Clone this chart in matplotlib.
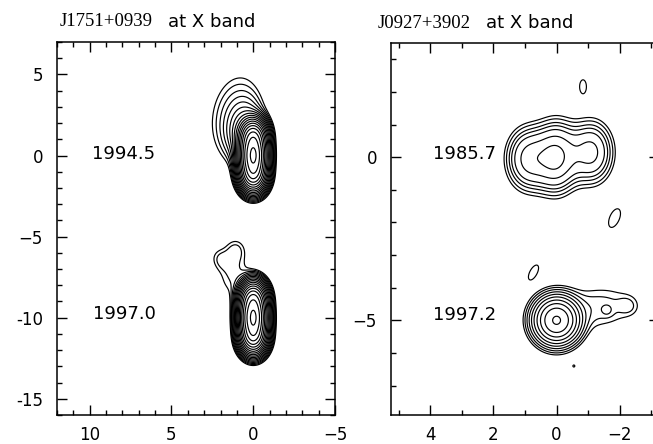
import numpy as np
import matplotlib
matplotlib.use("Agg")
import matplotlib.pyplot as plt
from matplotlib.ticker import MultipleLocator

# model components per epoch: (x, y, flux, sigma_major, sigma_minor, pa_deg)
# offsets in mas, pa measured from +y towards +x
j1751_1994 = [
    (0.0, 0.0, 0.85, 0.75, 0.41, 0),
    (0.0, 1.2, 0.3, 0.55, 0.41, 0),
    (0.0, -1.2, 0.3, 0.55, 0.41, 0),
    (0.6, 1.6, 0.02, 1.0, 0.6, -5),
    (1.1, 2.5, 0.0055, 1.7, 1.0, -10),
]
j1751_1997 = [
    (0.0, -10.0, 0.85, 0.75, 0.41, 0),
    (0.0, -8.8, 0.3, 0.55, 0.41, 0),
    (0.0, -11.2, 0.3, 0.55, 0.41, 0),
    (1.2, -7.3, 0.0035, 1.0, 0.65, -10),
    (1.1, -5.8, 0.003, 0.5, 0.45, 0),
    (2.0, -6.4, 0.003, 0.5, 0.42, 20),
]
j0927_1985 = [
    (0.0, 0.0, 1.0, 0.68, 0.42, 0),
    (0.9, -0.05, 0.8, 0.62, 0.45, 0),
    (-1.1, 0.15, 0.8, 0.62, 0.45, 0),
    (-0.84, 2.17, 0.24, 0.29, 0.15, 0),
    (-1.84, -1.87, 0.24, 0.44, 0.22, -25),
]
j0927_1997 = [
    (0.0, -5.0, 1.0, 0.365, 0.365, 0),
    (-1.3, -4.6, 0.032, 0.8, 0.42, 95),
    (-1.6, -4.69, 0.02, 0.12, 0.12, 0),
    (-2.25, -4.55, 0.02, 0.2, 0.18, 80),
    (0.73, -3.53, 0.02, 0.33, 0.15, -30),
    (-0.55, -6.4, 0.0155, 0.1, 0.1, 0),
]

# contour levels (sqrt 2 steps for J1751)
levels_j1751 = [0.00229, 0.00324, 0.0046, 0.0065, 0.0092, 0.013, 0.0183,
                0.0259, 0.0367, 0.0519, 0.0734, 0.104, 0.147, 0.2075,
                0.293, 0.415, 0.587, 0.83]
levels_j0927_1985 = [0.19, 0.25, 0.33, 0.41, 0.52, 0.73, 1.0]
levels_j0927_1997 = [0.015, 0.024, 0.038, 0.06, 0.095, 0.15, 0.24, 0.38, 0.6, 0.95]

epochs_left = ["1994.5", "1997.0"]
epochs_right = ["1985.7", "1997.2"]


def model_map(xx, yy, comps):
    z = np.zeros_like(xx)
    for x0, y0, flux, smaj, smin, pa in comps:
        t = np.radians(pa)
        dx, dy = xx - x0, yy - y0
        u = dx * np.sin(t) + dy * np.cos(t)
        v = dx * np.cos(t) - dy * np.sin(t)
        z += flux * np.exp(-0.5 * ((u / smaj) ** 2 + (v / smin) ** 2))
    return z


def style_axes(ax):
    ax.tick_params(which="both", direction="in", top=True, right=True,
                   labelsize=12, width=1.0)
    ax.tick_params(which="major", length=7)
    ax.tick_params(which="minor", length=3.5)
    ax.tick_params(axis="y", pad=10)
    ax.tick_params(axis="x", pad=8)
    for s in ax.spines.values():
        s.set_linewidth(1.1)


fig = plt.figure(figsize=(6.53, 4.44), dpi=100)

# J1751+0939
ax1 = fig.add_axes([57 / 653, 29 / 444, 278 / 653, 373 / 444])
gx, gy = np.meshgrid(np.arange(-5, 12, 0.012), np.arange(-16, 7, 0.012))
for comps in (j1751_1994, j1751_1997):
    ax1.contour(gx, gy, model_map(gx, gy, comps), levels=levels_j1751,
                colors="black", linewidths=0.85)
ax1.set_xlim(12, -5)
ax1.set_ylim(-16, 7)
ax1.set_xticks([10, 5, 0, -5], ["10", "5", "0", "\u22125"])
ax1.set_yticks([-15, -10, -5, 0, 5], ["-15", "-10", "\u22125", "0", "5"])
ax1.xaxis.set_minor_locator(MultipleLocator(1))
ax1.yaxis.set_minor_locator(MultipleLocator(1))
style_axes(ax1)
ax1.text(7.9, 0.1, epochs_left[0], fontsize=13, ha="center", va="center")
ax1.text(7.9, -9.8, epochs_left[1], fontsize=13, ha="center", va="center")

# J0927+3902
ax2 = fig.add_axes([391 / 653, 29 / 444, 268 / 653, 372 / 444])
hx, hy = np.meshgrid(np.arange(-3.3, 5.3, 0.01), np.arange(-8, 3.6, 0.01))
ax2.contour(hx, hy, model_map(hx, hy, j0927_1985), levels=levels_j0927_1985,
            colors="black", linewidths=0.85)
ax2.contour(hx, hy, model_map(hx, hy, j0927_1997), levels=levels_j0927_1997,
            colors="black", linewidths=0.85)
ax2.set_xlim(5.25, -3.25)
ax2.set_ylim(-7.9, 3.5)
ax2.set_xticks([4, 2, 0, -2], ["4", "2", "0", "\u22122"])
ax2.set_yticks([-5, 0], ["\u22125", "0"])
ax2.xaxis.set_minor_locator(MultipleLocator(1))
ax2.yaxis.set_minor_locator(MultipleLocator(1))
style_axes(ax2)
ax2.text(2.92, 0.1, epochs_right[0], fontsize=13, ha="center", va="center")
ax2.text(2.92, -4.85, epochs_right[1], fontsize=13, ha="center", va="center")

# titles: source name in serif, band in sans
fig.text(60 / 653, 1 - 22 / 444, "J1751+0939", family="Liberation Serif",
         fontsize=13.5, va="center")
fig.text(168 / 653, 1 - 22 / 444, "at X band", family="DejaVu Sans",
         fontsize=13, va="center")
fig.text(378 / 653, 1 - 23 / 444, "J0927+3902", family="Liberation Serif",
         fontsize=13.5, va="center")
fig.text(486 / 653, 1 - 23 / 444, "at X band", family="DejaVu Sans",
         fontsize=13, va="center")

fig.savefig("out.png", dpi=100)
